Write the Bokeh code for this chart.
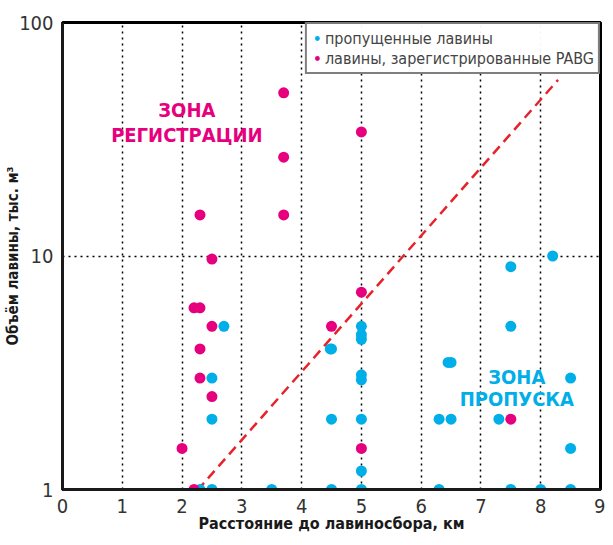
from bokeh.plotting import figure
from bokeh.models import FixedTicker, Legend, LegendItem, PrintfTickFormatter, Range1d
from bokeh.core.properties import value
from bokeh.embed import file_html
from bokeh.resources import INLINE

# ---- data ----
missed_x = [2.3, 2.5, 3.5, 2.7, 2.5, 2.5, 4.5, 4.48, 4.5, 4.5, 5.0, 5.0, 5.0, 5.0, 5.0, 5.0, 5.0, 5.0,
            6.3, 6.5, 6.45, 6.5, 6.3, 7.3, 7.5, 7.5, 8.2, 7.5, 8.0, 8.5, 8.5, 8.5]
missed_y = [1.0, 1.0, 1.0, 5.0, 3.0, 2.0, 4.0, 4.0, 2.0, 1.0, 5.0, 4.6, 4.4, 3.1, 2.95, 2.0, 1.2, 1.0,
            2.0, 2.0, 3.5, 3.5, 1.0, 2.0, 5.0, 9.0, 10.0, 1.0, 1.0, 1.0, 3.0, 1.5]
reg_x = [2.0, 2.2, 2.2, 2.3, 2.5, 2.3, 2.3, 2.5, 2.3, 2.5, 3.7, 3.7, 3.7, 5.0, 4.5, 5.0, 5.0, 7.5]
reg_y = [1.5, 1.0, 6.0, 6.0, 5.0, 4.0, 3.0, 2.5, 15.0, 9.7, 50.0, 26.5, 15.0, 34.0, 5.0, 7.0, 1.5, 2.0]
line_x = [2.08, 8.29]
line_y = [0.88, 56.8]
x_ticks = [0, 1, 2, 3, 4, 5, 6, 7, 8, 9]
y_ticks = [1, 10, 100]

BLUE = "#00aee8"
PINK = "#e6007e"
RED = "#e8222b"
FONT = "DejaVu Sans Condensed"

p = figure(width=605, height=537, output_backend="svg", toolbar_location=None,
           x_range=Range1d(0, 9), y_range=Range1d(1, 100), y_axis_type="log",
           min_border_left=62, min_border_right=5, min_border_top=22, min_border_bottom=48)

p.outline_line_color = "black"
p.outline_line_width = 3

# grid
p.xgrid.ticker = FixedTicker(ticks=[1, 2, 3, 4, 5, 6, 7, 8])
p.ygrid.ticker = FixedTicker(ticks=[10])
for g in (p.xgrid, p.ygrid):
    g.grid_line_color = "black"
    g.grid_line_width = 1.5
    g.grid_line_dash = "2 4"

# axes
p.xaxis.ticker = FixedTicker(ticks=x_ticks)
p.yaxis.ticker = FixedTicker(ticks=y_ticks)
p.yaxis.formatter = PrintfTickFormatter(format="%d")
for ax in (p.xaxis[0], p.yaxis[0]):
    ax.axis_line_width = 3
    ax.axis_line_color = "#1a1a1a"
    ax.major_tick_line_color = None
    ax.minor_tick_line_color = None
    ax.major_label_text_font = FONT
    ax.major_label_text_font_size = "20px"
    ax.major_label_text_color = "#333333"
    ax.major_label_standoff = 3
    ax.axis_label_text_font = FONT
    ax.axis_label_text_font_style = "bold"
    ax.axis_label_text_color = "#1a1a1a"
p.xaxis.axis_label = "Расстояние до лавиносбора, км"
p.xaxis.axis_label_text_font_size = "16px"
p.xaxis.axis_label_standoff = -2
p.yaxis.axis_label = "Объём лавины, тыс. м³"
p.yaxis.axis_label_text_font_size = "15px"
p.yaxis.axis_label_standoff = -6

# threshold line
p.line(line_x, line_y, line_color=RED, line_width=2.5, line_dash="10 6")

# points
r_missed = p.scatter(missed_x, missed_y, size=11, fill_color=BLUE, line_color=None)
r_reg = p.scatter(reg_x, reg_y, size=11, fill_color=PINK, line_color=None)

# zone texts
p.text(x=[2.08, 2.08], y=[42, 33], text=["ЗОНА", "РЕГИСТРАЦИИ"], text_color=PINK,
       text_font=value(FONT), text_font_style="bold", text_font_size="20px",
       text_align="center", text_baseline="middle")
p.text(x=[7.6, 7.6], y=[3.04, 2.45], text=["ЗОНА", "ПРОПУСКА"], text_color=BLUE,
       text_font=value(FONT), text_font_style="bold", text_font_size="20px",
       text_align="center", text_baseline="middle")

legend = Legend(items=[LegendItem(label="пропущенные лавины", renderers=[r_missed]),
                       LegendItem(label="лавины, зарегистрированные PABG", renderers=[r_reg])],
                location="top_right", margin=0, padding=4, spacing=0,
                border_line_color="black", border_line_width=2,
                label_text_font=FONT, label_text_font_size="16px",
                glyph_width=12, glyph_height=20, label_height=20, label_standoff=2)
p.add_layout(legend)

open("out.html", "w").write(file_html(p, INLINE))
